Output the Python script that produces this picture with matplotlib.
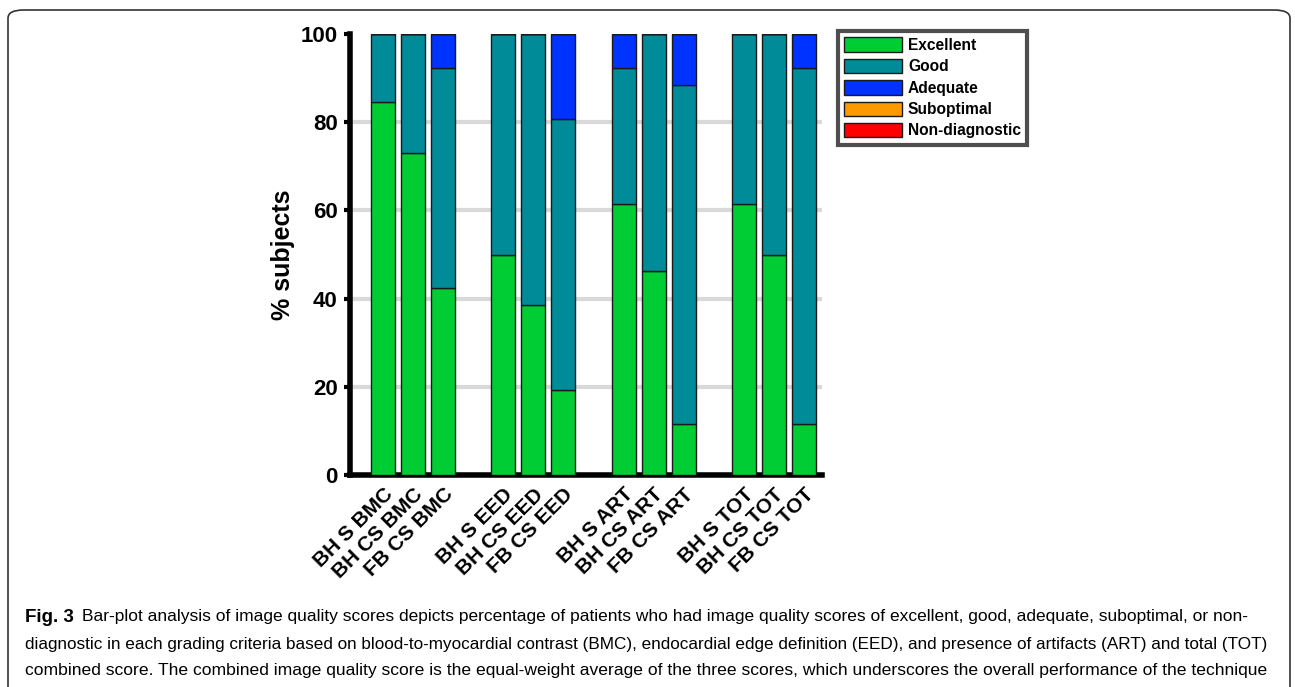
import numpy as np
import matplotlib
matplotlib.use("Agg")
import matplotlib.pyplot as plt
from matplotlib.patches import FancyBboxPatch, Patch

# ── data (% subjects per grading category) ──────────────────────────────────
labels = ["BH S BMC", "BH CS BMC", "FB CS BMC",
          "BH S EED", "BH CS EED", "FB CS EED",
          "BH S ART", "BH CS ART", "FB CS ART",
          "BH S TOT", "BH CS TOT", "FB CS TOT"]
excellent = [84.6, 73.1, 42.3, 50.0, 38.5, 19.2, 61.5, 46.2, 11.5, 61.5, 50.0, 11.5]
good      = [15.4, 26.9, 50.0, 50.0, 61.5, 61.6, 30.8, 53.8, 77.0, 38.5, 50.0, 80.8]
adequate  = [0.0, 0.0, 7.7, 0.0, 0.0, 19.2, 7.7, 0.0, 11.5, 0.0, 0.0, 7.7]
suboptimal = [0.0] * 12
nondiag    = [0.0] * 12

categories = ["Excellent", "Good", "Adequate", "Suboptimal", "Non-diagnostic"]
colours = ["#00CC33", "#008B99", "#0033FF", "#FF9900", "#FF0000"]

W, H = 1295, 687

# bars in groups of three with an empty slot between groups
pos = np.array([i + i // 3 for i in range(len(labels))])

fig = plt.figure(figsize=(W / 100, H / 100), dpi=100)
ax = fig.add_axes([350 / W, 1 - 475 / H, 472 / W, 441 / H])

bottom = np.zeros(len(labels))
for vals, c in zip([excellent, good, adequate, suboptimal, nondiag], colours):
    vals = np.array(vals)
    ax.bar(pos, vals, 0.8, bottom=bottom, color=c, edgecolor="#1a1a1a",
           linewidth=1.0, zorder=3)
    bottom += vals

ax.set_xlim(-1.1, 14.6)
ax.set_ylim(0, 100)
ax.set_yticks([0, 20, 40, 60, 80, 100])
for y in [20, 40, 60, 80]:
    ax.axhline(y, color="#d9d9d9", lw=3, zorder=1)

for s in ["top", "right"]:
    ax.spines[s].set_visible(False)
for s in ["left", "bottom"]:
    ax.spines[s].set_linewidth(4)
ax.tick_params(axis="y", length=4, width=3, labelsize=16, pad=5)
ax.tick_params(axis="x", length=0, pad=7)
for t in ax.get_yticklabels():
    t.set_fontweight("heavy")
    t.set_family("Liberation Sans")

ax.set_xticks(pos)
ax.set_xticklabels(labels, rotation=45, ha="right", rotation_mode="anchor",
                   fontsize=15, fontweight="heavy", family="Liberation Sans")
ax.set_ylabel("% subjects", fontsize=18, fontweight="heavy",
              family="Liberation Sans", labelpad=4)

handles = [Patch(facecolor=c, edgecolor="#1a1a1a", label=l)
           for c, l in zip(colours, categories)]
leg = fig.legend(handles=handles, loc="upper left",
                 bbox_to_anchor=(838 / W, 1 - 31 / H),
                 frameon=True, fancybox=False, handlelength=3.7,
                 handleheight=1.05, handletextpad=0.4, labelspacing=0.38,
                 borderpad=0.4, borderaxespad=0,
                 prop={"family": "Liberation Sans", "weight": "bold", "size": 11.2})
leg.get_frame().set_edgecolor("#222222")
leg.get_frame().set_linewidth(3)

# rounded frame round the figure and caption (bottom edge runs off the image)
frame = FancyBboxPatch((8 / W, -20 / H), 1282 / W, 697 / H,
                       boxstyle="round,pad=0,rounding_size=0.012",
                       transform=fig.transFigure, fill=False,
                       edgecolor="#333333", linewidth=1.2)
fig.patches.append(frame)

# ── caption ─────────────────────────────────────────────────────────────────
cap_font = "Liberation Sans"
cap_lines = [
    "Bar-plot analysis of image quality scores depicts percentage of patients who had image quality scores of excellent, good, adequate, suboptimal, or non-",
    "diagnostic in each grading criteria based on blood-to-myocardial contrast (BMC), endocardial edge definition (EED), and presence of artifacts (ART) and total (TOT)",
    "combined score. The combined image quality score is the equal-weight average of the three scores, which underscores the overall performance of the technique",
]
cap_y = [617, 644, 671]
cap_x0 = [82, 25, 25]
cap_x1 = [1245, 1267, 1268]

fig.text(25 / W, 1 - cap_y[0] / H, "Fig. 3", fontsize=13.5, fontweight="bold",
         family=cap_font, va="center")
renderer = fig.canvas.get_renderer()
for line, y, x0, x1 in zip(cap_lines, cap_y, cap_x0, cap_x1):
    t = fig.text(x0 / W, 1 - y / H, line, fontsize=12, family=cap_font,
                 va="center")
    w = t.get_window_extent(renderer).width
    t.set_fontsize(12 * (x1 - x0) / w)

fig.savefig("out.png", dpi=100)
